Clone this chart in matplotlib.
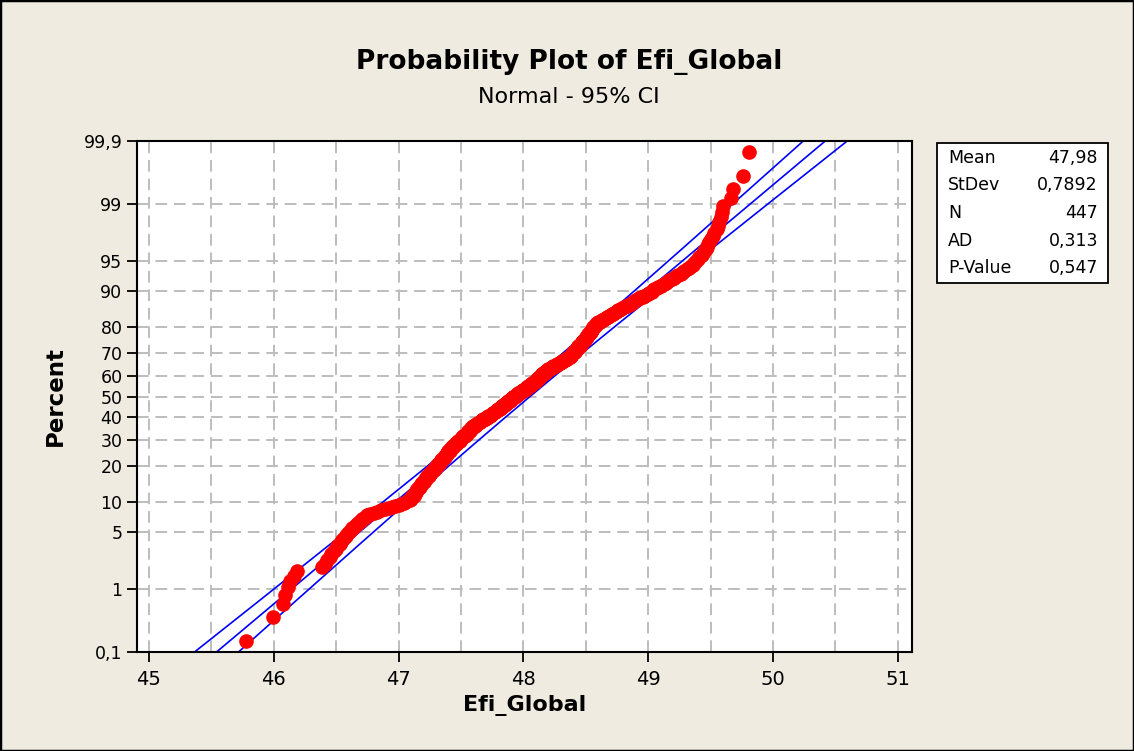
import matplotlib
matplotlib.use("Agg")
import numpy as np
import matplotlib.pyplot as plt
from matplotlib.patches import Rectangle
from statistics import NormalDist

efi_global = [
    45.78, 45.99,
    46.07, 46.09, 46.11, 46.13, 46.16, 46.19,
    46.39, 46.41, 46.43, 46.45, 46.46, 46.48, 46.50,
    46.51, 46.53, 46.54, 46.55, 46.56, 46.58, 46.59,
    46.60, 46.62, 46.63, 46.64, 46.66, 46.67,
    46.68, 46.70, 46.71, 46.72, 46.74, 46.75, 46.77,
    46.80, 46.83, 46.86, 46.89, 46.92, 46.95,
    46.97, 47.00, 47.02, 47.04, 47.07, 47.09,
    47.10, 47.10, 47.11, 47.11, 47.12, 47.12, 47.13, 47.13, 47.14, 47.14,
    47.15, 47.15, 47.16, 47.16, 47.17, 47.17, 47.18, 47.18, 47.19, 47.19,
    47.20, 47.20, 47.21, 47.21, 47.22, 47.22, 47.23, 47.23, 47.24, 47.24,
    47.25, 47.25, 47.26, 47.26, 47.27, 47.27, 47.28,
    47.28, 47.29, 47.29, 47.30, 47.30, 47.31, 47.31, 47.31, 47.32, 47.32,
    47.33, 47.33, 47.34, 47.34, 47.34, 47.35, 47.35, 47.36, 47.36, 47.37,
    47.37, 47.37, 47.38, 47.38, 47.39, 47.39, 47.39, 47.40, 47.40, 47.40,
    47.41, 47.41,
    47.41, 47.42, 47.42, 47.43, 47.43, 47.44, 47.44, 47.44, 47.45, 47.45,
    47.46, 47.46, 47.47, 47.47, 47.48, 47.48, 47.49, 47.49, 47.49, 47.50,
    47.50, 47.51, 47.51, 47.52, 47.52, 47.53, 47.53, 47.54, 47.54, 47.55,
    47.55, 47.55,
    47.56, 47.56, 47.56, 47.57, 47.57, 47.57, 47.58, 47.58, 47.58, 47.59,
    47.59, 47.60,
    47.60, 47.61, 47.61, 47.62, 47.62, 47.63, 47.64, 47.64, 47.65, 47.65,
    47.66, 47.66, 47.67, 47.68,
    47.68, 47.69, 47.69, 47.70, 47.71, 47.71, 47.72, 47.72, 47.73, 47.74,
    47.74, 47.75, 47.75, 47.76,
    47.76, 47.77, 47.77, 47.78, 47.78, 47.79, 47.79, 47.80, 47.80, 47.81,
    47.81, 47.82, 47.82, 47.83, 47.83, 47.84, 47.84, 47.85, 47.85, 47.86,
    47.86, 47.86, 47.87, 47.87, 47.88, 47.88, 47.89, 47.89, 47.90, 47.90,
    47.90, 47.91, 47.91, 47.92, 47.92,
    47.93, 47.93, 47.94, 47.94, 47.95, 47.95, 47.96, 47.96, 47.97, 47.97,
    47.98, 47.99, 47.99, 48.00, 48.00, 48.01, 48.01, 48.02, 48.02, 48.03,
    48.03, 48.04, 48.04, 48.05, 48.05, 48.06, 48.06, 48.07, 48.07, 48.08,
    48.08, 48.09, 48.09, 48.10, 48.10, 48.10, 48.11, 48.11, 48.12, 48.12,
    48.12, 48.13, 48.13, 48.14, 48.14, 48.14, 48.15, 48.15, 48.16, 48.16,
    48.16, 48.17, 48.17, 48.18, 48.18, 48.18, 48.19,
    48.20, 48.20, 48.21, 48.22, 48.22, 48.23, 48.24, 48.24, 48.25, 48.26,
    48.27, 48.27, 48.28, 48.29, 48.29, 48.30, 48.31, 48.31, 48.32, 48.33,
    48.33, 48.34, 48.35, 48.35, 48.36, 48.37,
    48.37, 48.38, 48.38, 48.38, 48.39, 48.39, 48.40, 48.40, 48.40, 48.41,
    48.41, 48.41, 48.42, 48.42, 48.43, 48.43, 48.43, 48.44, 48.44, 48.44,
    48.45, 48.45, 48.46, 48.46, 48.46, 48.47, 48.47, 48.47, 48.48, 48.48,
    48.49, 48.49, 48.49, 48.50, 48.50, 48.50, 48.51, 48.51, 48.52, 48.52,
    48.52, 48.53, 48.53,
    48.53, 48.54, 48.54, 48.55, 48.55, 48.55, 48.56, 48.56, 48.56, 48.57,
    48.57, 48.58, 48.58, 48.58, 48.59,
    48.60, 48.61, 48.62, 48.63, 48.64, 48.65, 48.66, 48.67, 48.68, 48.69,
    48.70, 48.71, 48.72, 48.73, 48.74, 48.75, 48.76, 48.77,
    48.78, 48.79, 48.81, 48.82, 48.83, 48.84, 48.86, 48.87, 48.88, 48.89,
    48.90, 48.92, 48.93,
    48.94, 48.96, 48.97, 48.98, 49.00, 49.01, 49.03, 49.04,
    49.05, 49.07, 49.08, 49.10, 49.11, 49.13, 49.14, 49.16, 49.17,
    49.19, 49.21, 49.22, 49.24, 49.26, 49.28, 49.29, 49.31, 49.33,
    49.34, 49.36, 49.37, 49.38, 49.40, 49.41, 49.43, 49.44,
    49.45, 49.46, 49.47, 49.48, 49.49, 49.50,
    49.52, 49.53, 49.55, 49.56, 49.57, 49.58, 49.59, 49.60,
    49.66, 49.68, 49.76, 49.81,
]

# fitted normal parameters shown in the stats box
mean = 47.98
stdev = 0.7892
n_obs = 447

stat_names = ["Mean", "StDev", "N", "AD", "P-Value"]
stat_values = ["47,98", "0,7892", "447", "0,313", "0,547"]

percent_ticks = [0.1, 1, 5, 10, 20, 30, 40, 50, 60, 70, 80, 90, 95, 99, 99.9]
x_ticks = [45, 46, 47, 48, 49, 50, 51]

BG = "#EFEBE0"
nd = NormalDist()

x = np.sort(np.array(efi_global))
n = len(x)
ranks = np.arange(1, n + 1)
# median ranks, as used by Minitab
z_pts = np.array([nd.inv_cdf((i - 0.3) / (n + 0.4)) for i in ranks])

zmax = nd.inv_cdf(0.999)
z_line = np.linspace(-3.6, 3.6, 200)
fit = mean + stdev * z_line
half = 1.96 * stdev * np.sqrt(1.0 / n_obs + z_line ** 2 / (2.0 * n_obs))

fig = plt.figure(figsize=(11.34, 7.51), dpi=100, facecolor=BG)
ax = fig.add_axes([137 / 1134, 1 - 652 / 751, 775 / 1134, 511 / 751])
ax.set_facecolor("white")

ax.set_xlim(44.904, 51.114)
ax.set_ylim(-zmax, zmax)

# grid
for v in np.arange(45, 51.01, 0.5):
    ax.axvline(v, color="#BDBDBD", lw=1.4, ls=(0, (6, 3.5)), zorder=0)
for p in percent_ticks[1:-1]:
    ax.axhline(nd.inv_cdf(p / 100), color="#BDBDBD", lw=1.4,
               ls=(0, (6, 3.5)), zorder=0)

ax.plot(fit, z_line, color="#0000FF", lw=1.2, zorder=2)
ax.plot(fit - half, z_line, color="#0000FF", lw=1.2, zorder=2)
ax.plot(fit + half, z_line, color="#0000FF", lw=1.2, zorder=2)

ax.plot(x, z_pts, "o", color="#FF0000", ms=9.5, mec="#FF0000", zorder=3)

ax.set_xticks(x_ticks)
ax.set_xticklabels([str(t) for t in x_ticks], fontsize=14)
ax.set_yticks([nd.inv_cdf(p / 100) for p in percent_ticks])
ax.set_yticklabels([str(p).replace(".", ",") for p in percent_ticks],
                   fontsize=12.5)
ax.tick_params(axis="both", direction="out", length=7, width=1.3,
               color="black")
ax.tick_params(axis="x", pad=6)
for s in ax.spines.values():
    s.set_linewidth(1.5)

ax.set_xlabel("Efi_Global", fontsize=16, fontweight="bold", labelpad=4)
ax.set_ylabel("Percent", fontsize=16.5, fontweight="bold", labelpad=12)

fig.text(569 / 1134, 1 - 62 / 751, "Probability Plot of Efi_Global",
         ha="center", va="center", fontsize=19, fontweight="bold")
fig.text(569 / 1134, 1 - 97 / 751, "Normal - 95% CI",
         ha="center", va="center", fontsize=16)

# stats box
fig.add_artist(Rectangle((937 / 1134, 1 - 283 / 751), 171 / 1134, 140 / 751,
                         transform=fig.transFigure, fc="white", ec="black",
                         lw=1.3))
row_y = [158, 185, 213, 241, 268]
for name, val, yy in zip(stat_names, stat_values, row_y):
    fig.text(948 / 1134, 1 - yy / 751, name, ha="left", va="center",
             fontsize=12.5)
    fig.text(1098 / 1134, 1 - yy / 751, val, ha="right", va="center",
             fontsize=12.5)

# outer frame
fig.add_artist(Rectangle((0, 0), 1, 1, transform=fig.transFigure,
                         fill=False, ec="black", lw=2.5))

fig.savefig("out.png", dpi=100, facecolor=BG)
